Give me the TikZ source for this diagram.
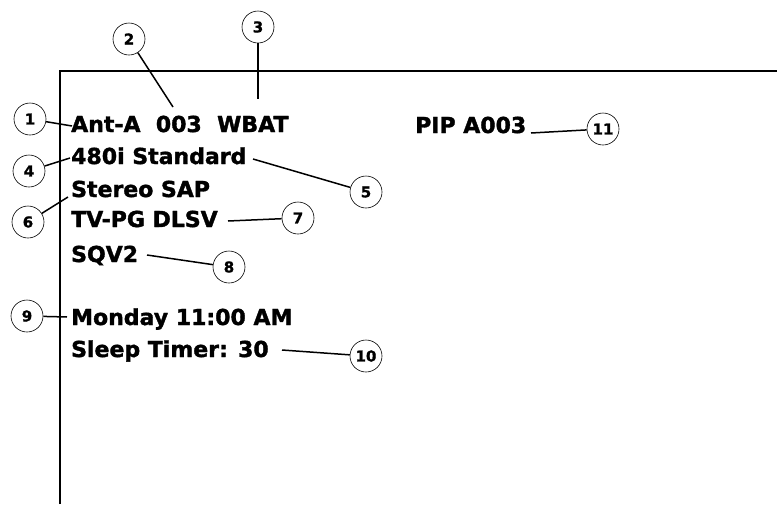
\documentclass[tikz,border=0pt]{standalone}
\usepackage{fontspec}
\setmainfont{DejaVu Sans}
\newfontfamily\osdfont[FakeBold=1.6]{DejaVu Sans Bold}
\newfontfamily\numfont[FakeBold=1.2]{DejaVu Sans Bold}
\begin{document}
\begin{tikzpicture}[x=1pt,y=-1pt,
  callout/.style={circle,draw,line width=0.6pt,minimum size=32pt,inner sep=0pt,
    font=\fontsize{15}{15}\numfont},
  osd/.style={anchor=base west,inner sep=0pt,font=\fontsize{22}{22}\osdfont},
  lead/.style={line width=1.5pt},
  frame/.style={line width=2.4pt}]
\useasboundingbox (0,0) rectangle (777,504);
% screen frame
\coordinate (ftop) at (60,71);
\coordinate (fright) at (777,71);
\coordinate (fbot) at (60,504);
\draw[frame] (fbot) -- (ftop) -- (fright);
% on-screen texts
\node[osd] (t1) at (71,132) {Ant-A\ \ 003\ \ WBAT};
\node[osd] (t2) at (71,164) {480i Standard};
\node[osd] (t3) at (71,197) {Stereo SAP};
\node[osd] (t4) at (71,227) {TV-PG DLSV};
\node[osd] (t5) at (71,262) {SQV2};
\node[osd] (t6) at (71,325) {Monday 11:00 AM};
\node[osd] (t7) at (71,357) {Sleep Timer: 30};
\node[osd] (t8) at (415,133) {PIP A003};
% callouts
\node[callout] (c1) at (30,119) {1};
\node[callout] (c2) at (129,39) {2};
\node[callout] (c3) at (258,27) {3};
\node[callout] (c4) at (29,171) {4};
\node[callout] (c5) at (366,192) {5};
\node[callout] (c6) at (28,222) {6};
\node[callout] (c7) at (298,218) {7};
\node[callout] (c8) at (229,267) {8};
\node[callout] (c9) at (27,316) {9};
\node[callout] (c10) at (366,356) {10};
\node[callout] (c11) at (603,129) {11};
% leader ends
\coordinate (e1) at (72,126);
\coordinate (e2) at (173,107);
\coordinate (e3) at (258,99);
\coordinate (e4) at (70,158);
\coordinate (e5) at (253,159);
\coordinate (e6) at (68,197);
\coordinate (e7) at (228,221);
\coordinate (e8) at (147,255);
\coordinate (e9) at (67,317);
\coordinate (e10) at (282,350);
\coordinate (e11) at (531,133);
\draw[lead] (c1) -- (e1);
\draw[lead] (c2) -- (e2);
\draw[lead] (c3) -- (e3);
\draw[lead] (c4) -- (e4);
\draw[lead] (c5) -- (e5);
\draw[lead] (c6) -- (e6);
\draw[lead] (c7) -- (e7);
\draw[lead] (c8) -- (e8);
\draw[lead] (c9) -- (e9);
\draw[lead] (c10) -- (e10);
\draw[lead] (c11) -- (e11);
\end{tikzpicture}
\end{document}
